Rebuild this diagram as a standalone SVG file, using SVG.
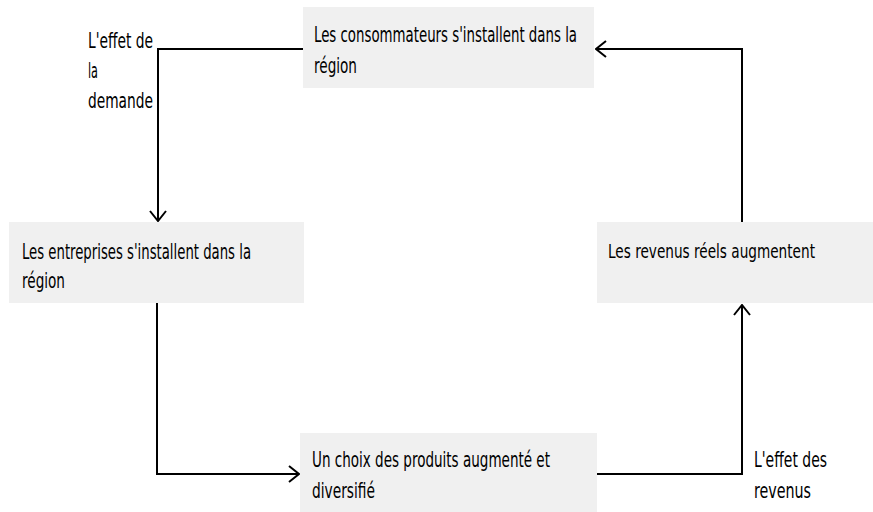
<svg xmlns="http://www.w3.org/2000/svg" width="873" height="512" viewBox="0 0 873 512">
<style>
.box{fill:#f0f0f0;}
.t{font-family:"DejaVu Sans Condensed","Liberation Sans Narrow","Liberation Sans",Arial,sans-serif;font-stretch:condensed;font-size:21px;fill:#000;}
.c{fill:none;stroke:#000;stroke-width:2;}
</style>
<defs>
<marker id="ah" viewBox="0 0 12 18" refX="11" refY="9" markerWidth="12" markerHeight="18" markerUnits="userSpaceOnUse" orient="auto">
<path d="M1,1 L11,9 L1,17" fill="none" stroke="#000" stroke-width="2"/>
</marker>
</defs>
<rect width="873" height="512" fill="#fff"/>
<g id="connectors">
<path class="c" d="M303,49 H158 V221" marker-end="url(#ah)"/>
<path class="c" d="M157,303 V474 H299" marker-end="url(#ah)"/>
<path class="c" d="M597,474 H742 V305" marker-end="url(#ah)"/>
<path class="c" d="M742,222 V49 H596" marker-end="url(#ah)"/>
</g>
<g id="node-consommateurs">
<rect class="box" x="303" y="7" width="291" height="81"/>
<text class="t" x="314" y="42" textLength="263" lengthAdjust="spacingAndGlyphs">Les consommateurs s'installent dans la</text>
<text class="t" x="314" y="73" textLength="43" lengthAdjust="spacingAndGlyphs">région</text>
</g>
<g id="node-entreprises">
<rect class="box" x="9" y="222" width="295" height="81"/>
<text class="t" x="22" y="259" textLength="229" lengthAdjust="spacingAndGlyphs">Les entreprises s'installent dans la</text>
<text class="t" x="22" y="288" textLength="43" lengthAdjust="spacingAndGlyphs">région</text>
</g>
<g id="node-revenus">
<rect class="box" x="597" y="222" width="276" height="81"/>
<text class="t" x="608" y="258" style="font-size:19.5px" textLength="207" lengthAdjust="spacingAndGlyphs">Les revenus réels augmentent</text>
</g>
<g id="node-choix">
<rect class="box" x="300" y="433" width="297" height="79"/>
<text class="t" x="312" y="467" textLength="238" lengthAdjust="spacingAndGlyphs">Un choix des produits augmenté et</text>
<text class="t" x="312" y="498" textLength="63" lengthAdjust="spacingAndGlyphs">diversifié</text>
</g>
<g id="label-demande">
<text class="t" x="88" y="48" textLength="65" lengthAdjust="spacingAndGlyphs">L'effet de</text>
<text class="t" x="88" y="78" textLength="10" lengthAdjust="spacingAndGlyphs">la</text>
<text class="t" x="88" y="108" textLength="65" lengthAdjust="spacingAndGlyphs">demande</text>
</g>
<g id="label-revenus">
<text class="t" x="754" y="467" textLength="73" lengthAdjust="spacingAndGlyphs">L'effet des</text>
<text class="t" x="754" y="498" textLength="57" lengthAdjust="spacingAndGlyphs">revenus</text>
</g>
</svg>
